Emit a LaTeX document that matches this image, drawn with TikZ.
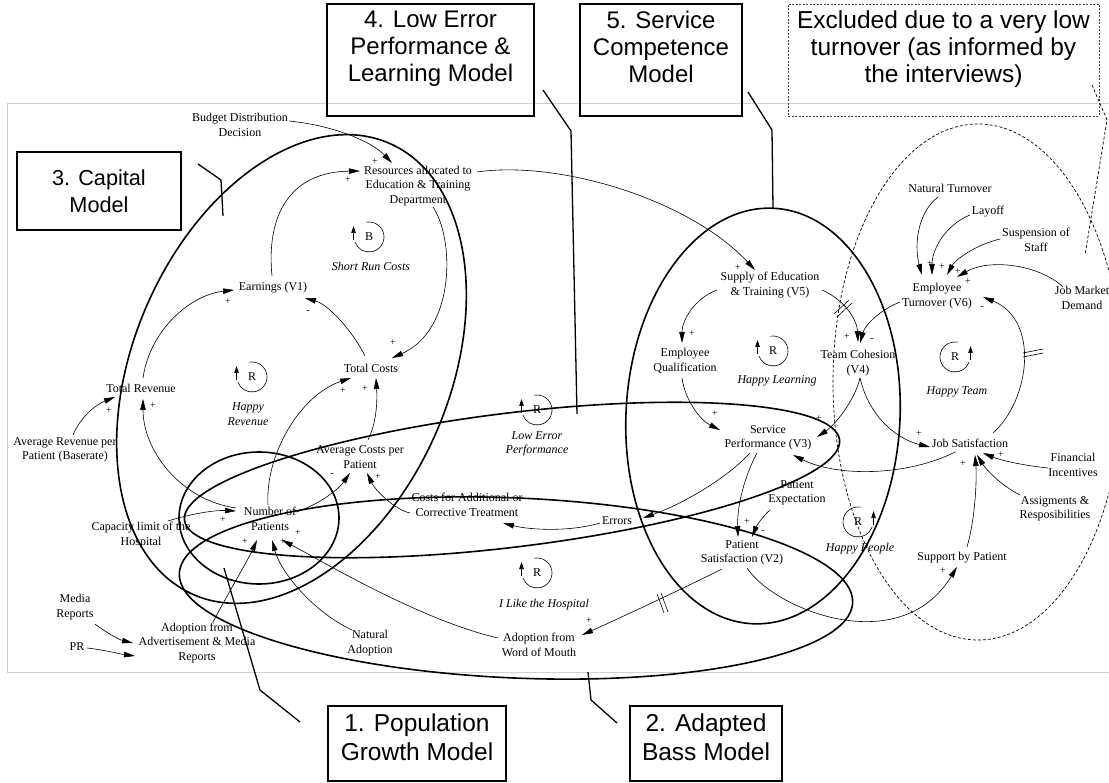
\documentclass[tikz,border=0pt]{standalone}
\usepackage{fontspec}
\setmainfont{Liberation Serif}
\newfontfamily\boxfont{Liberation Sans}
\usetikzlibrary{arrows.meta}
\tikzset{
  lbl/.style={font=\fontsize{12}{14.5}\selectfont, align=center, inner sep=1pt},
  loopname/.style={font=\fontsize{12}{14.5}\selectfont\itshape, align=center, inner sep=1pt},
  sgn/.style={font=\fontsize{10}{10}\selectfont, inner sep=0pt},
  arr/.style={line width=0.6pt, -{Triangle[length=11pt,width=5.5pt]}},
  model/.style={line width=1.6pt},
  xmodel/.style={line width=0.7pt, dash pattern=on 3pt off 2pt},
  pointer/.style={line width=1.3pt},
  xpointer/.style={line width=0.7pt, dash pattern=on 3pt off 2pt},
  mbox/.style={draw, line width=1.3pt, align=center, inner sep=0pt},
  xbox/.style={draw=black!75, line width=0.7pt, dash pattern=on 2pt off 1.5pt, align=center, inner sep=0pt},
  hashmark/.style={line width=0.6pt},
  loopline/.style={line width=0.6pt}
}
\newcommand{\looparcL}[3]{%
  \node[lbl] (#1) at #2 {#3};
  \begin{scope}[shift={#2}, yscale=-1]
    \draw[loopline] (100:15) arc[start angle=100, end angle=-160, radius=15];
    \draw[loopline, -{Triangle[length=7pt,width=4.5pt]}] (-15.5,-3) -- (-15.5,11);
  \end{scope}}
\newcommand{\looparcR}[3]{%
  \node[lbl] (#1) at #2 {#3};
  \begin{scope}[shift={#2}, yscale=-1]
    \draw[loopline] (80:15) arc[start angle=80, end angle=340, radius=15];
    \draw[loopline, -{Triangle[length=7pt,width=4.5pt]}] (15.5,-3) -- (15.5,11);
  \end{scope}}
\begin{document}
\begin{tikzpicture}[x=1pt, y=-1pt]
\useasboundingbox (0,0) rectangle (1109,783);
\fill[white] (0,0) rectangle (1109,783);
% frame
\draw[black!18, line width=0.8pt] (7,103) -- (1120,103);
\draw[black!18, line width=0.8pt] (7,103) -- (7,672) -- (1120,672);

% model ellipses
\draw[model, rotate around={66.6:(291.5,369)}] (291.5,369) ellipse [x radius=246, y radius=158];
\draw[model] (259,518) ellipse [x radius=80, y radius=66];
\draw[model, rotate around={-2.5:(516,588)}] (516,588) ellipse [x radius=337, y radius=90];
\draw[model, rotate around={7:(512,480)}] (512,480) ellipse [x radius=330, y radius=67];
\draw[model, rotate around={-3:(763,416)}] (763,416) ellipse [x radius=137, y radius=208];
\draw[xmodel] (978,382) ellipse [x radius=145, y radius=258];

% model boxes
\node[mbox, minimum width=164pt, minimum height=78pt, font=\boxfont\fontsize{21.7}{27}\selectfont] (b3) at (99,191) {3. Capital\\Model};
\node[mbox, minimum width=207pt, minimum height=112pt, font=\boxfont\fontsize{24}{27}\selectfont] (b4) at (430.5,60) {4. Low Error\\Performance \&\\Learning Model\\\mbox{}};
\node[mbox, minimum width=162pt, minimum height=112pt, font=\boxfont\fontsize{24}{27}\selectfont] (b5) at (661,60) {5. Service\\Competence\\Model\\\mbox{}};
\node[xbox, minimum width=311pt, minimum height=112pt, font=\boxfont\fontsize{24.5}{27}\selectfont] (bx) at (943.5,60) {Excluded due to a very low\\turnover (as informed by\\the interviews)\\\mbox{}};
\node[mbox, minimum width=178pt, minimum height=75pt, text depth=12pt, font=\boxfont\fontsize{24.5}{29}\selectfont] (b1) at (417,743.5) {1. Population\\Growth Model};
\node[mbox, minimum width=152pt, minimum height=75pt, text depth=12pt, font=\boxfont\fontsize{24.5}{29}\selectfont] (b2) at (706,743.5) {2. Adapted\\Bass Model};

% pointers
\coordinate (p3) at (198,164);
\coordinate (p4) at (543,90);
\coordinate (p5) at (748,92);
\coordinate (px) at (1092,85);
\coordinate (p1) at (300,722);
\coordinate (p2) at (617,723);
\draw[pointer] (p3) -- (221,180) -- (223,216);
\draw[pointer] (p4) -- (571,131) -- (577,414);
\draw[pointer] (p5) -- (772,130) -- (773,208);
\draw[xpointer] (px) -- (1107,120) -- (1085,255);
\draw[pointer] (p1) -- (260,690) -- (224,568);
\draw[pointer] (p2) -- (591,700) -- (588,672);

% variables
\node[lbl] (bud) at (240,125) {Budget Distribution\\Decision};
\node[lbl] (res) at (418,186) {Resources allocated to\\Education \& Training\\Department};
\node[lbl] (earn) at (273,288) {Earnings (V1)};
\node[lbl] (trev) at (141,388) {Total Revenue};
\node[lbl] (tcost) at (371,368) {Total Costs};
\node[lbl] (acpp) at (360,457) {Average Costs per\\Patient};
\node[lbl] (cadd) at (467,505) {Costs for Additional or\\Corrective Treatment};
\node[lbl] (arpp) at (65,450) {Average Revenue per\\Patient (Baserate)};
\node[lbl] (nop) at (270,519) {Number of\\Patients};
\node[lbl] (cap) at (141,535) {Capacity limit of the\\Hospital};
\node[lbl] (err) at (617,521) {Errors};
\node[lbl] (eq) at (685,361) {Employee\\Qualification};
\node[lbl] (soe) at (770,285) {Supply of Education\\\& Training (V5)};
\node[lbl] (tc) at (858,363) {Team Cohesion\\(V4)};
\node[lbl] (sp) at (768,438) {Service\\Performance (V3)};
\node[lbl] (pe) at (797,493) {Patient\\Expectation};
\node[lbl] (ps) at (742,553) {Patient\\Satisfaction (V2)};
\node[lbl] (et) at (937,296) {Employee\\Turnover (V6)};
\node[lbl] (nt) at (950,188) {Natural Turnover};
\node[lbl] (lay) at (988,212) {Layoff};
\node[lbl] (sus) at (1036,240) {Suspension of\\Staff};
\node[lbl] (jmd) at (1082,298) {Job Market\\Demand};
\node[lbl] (js) at (970,443) {Job Satisfaction};
\node[lbl] (fi) at (1073,465) {Financial\\Incentives};
\node[lbl] (ar) at (1055,509) {Assigments \&\\Resposibilities};
\node[lbl] (sbp) at (962,558) {Support by Patient};
\node[lbl] (media) at (75,607) {Media\\Reports};
\node[lbl] (pr) at (77,647) {PR};
\node[lbl] (aam) at (197,643) {Adoption from\\Advertisement \& Media\\Reports};
\node[lbl] (na) at (370,643) {Natural\\Adoption};
\node[lbl] (awm) at (539,645) {Adoption from\\Word of Mouth};

% loop names and symbols
\node[loopname] (lsrc) at (371,266) {Short Run Costs};
\node[loopname] (lhr) at (248,414) {Happy\\Revenue};
\node[loopname] (lle) at (537,444) {Low Error\\Performance};
\node[loopname] (lhl) at (777,381) {Happy Learning};
\node[loopname] (lht) at (957,392) {Happy Team};
\node[loopname] (lhp) at (860,549) {Happy People};
\node[loopname] (lilh) at (544,605) {I Like the Hospital};
\looparcL{lB}{(369,237)}{B}
\looparcL{lR1}{(252,377)}{R}
\looparcL{lR2}{(537,410)}{R}
\looparcL{lR3}{(773,351)}{R}
\looparcR{lR4}{(955,357)}{R}
\looparcR{lR5}{(858,522)}{R}
\looparcL{lR6}{(537,573)}{R}

% causal links
\draw[arr] ([shift={(49,-4)}]bud.center) .. controls (330,125) and (370,140) .. ([shift={(-26,-23)}]res.center);
\draw[arr] ([shift={(-1,-12)}]earn.center) .. controls (266,215) and (290,172) .. ([shift={(-58,-15)}]res.center);
\draw[arr] ([shift={(15,21)}]res.center) .. controls (455,240) and (455,330) .. ([shift={(21,-10)}]tcost.center);
\draw[arr] ([shift={(-6,-12)}]tcost.center) .. controls (355,335) and (330,305) .. ([shift={(32,10)}]earn.center);
\draw[arr] ([shift={(2,-10)}]trev.center) .. controls (150,330) and (190,295) .. ([shift={(-39,2)}]earn.center);
\draw[arr] ([shift={(-34,-11)}]nop.center) .. controls (180,500) and (143,450) .. ([shift={(2,11)}]trev.center);
\draw[arr] ([shift={(8,-15)}]arpp.center) .. controls (80,418) and (95,405) .. ([shift={(-26,9)}]trev.center);
\draw[arr] ([shift={(27,-14)}]cap.center) .. controls (190,514) and (215,510) .. ([shift={(-34,-8)}]nop.center);
\draw[arr] ([shift={(-2,-14)}]nop.center) .. controls (265,455) and (300,395) .. ([shift={(-20,10)}]tcost.center);
\draw[arr] ([shift={(8,-17)}]acpp.center) .. controls (378,420) and (377,395) .. ([shift={(5,10)}]tcost.center);
\draw[arr] ([shift={(26,-7)}]nop.center) .. controls (318,505) and (338,490) .. ([shift={(-10,16)}]acpp.center);
\draw[arr] ([shift={(-57,8)}]cadd.center) .. controls (395,510) and (375,490) .. ([shift={(7,16)}]acpp.center);
\draw[arr] ([shift={(-17,2)}]err.center) .. controls (570,532) and (530,530) .. ([shift={(36,18)}]cadd.center);
\draw[arr] ([shift={(-18,15)}]sp.center) .. controls (725,480) and (680,505) .. ([shift={(26,-3)}]err.center);
\draw[arr] ([shift={(-11,15)}]sp.center) .. controls (745,475) and (737,505) .. ([shift={(-4,-16)}]ps.center);
\draw[arr] ([shift={(-27,17)}]pe.center) .. controls (762,517) and (756,527) .. ([shift={(10,-16)}]ps.center);
\draw[arr] ([shift={(-3,17)}]eq.center) .. controls (685,400) and (700,420) .. ([shift={(-48,-8)}]sp.center);
\draw[arr] ([shift={(-53,5)}]soe.center) .. controls (695,298) and (682,320) .. ([shift={(-3,-18)}]eq.center);
\draw[arr] ([shift={(59,-14)}]res.center) .. controls (560,160) and (690,200) .. ([shift={(-15,-15)}]soe.center);
\draw[arr] ([shift={(52,5)}]soe.center) .. controls (845,300) and (857,320) .. ([shift={(0,-21)}]tc.center);
\draw[arr] ([shift={(-37,6)}]et.center) .. controls (880,310) and (865,325) .. ([shift={(2,-20)}]tc.center);
\draw[arr] ([shift={(2,15)}]tc.center) .. controls (855,400) and (835,425) .. ([shift={(49,-1)}]sp.center);
\draw[arr] ([shift={(2,15)}]tc.center) .. controls (870,420) and (900,440) .. ([shift={(-40,4)}]js.center);
\draw[arr] ([shift={(-15,9)}]js.center) .. controls (910,475) and (840,478) .. ([shift={(25,17)}]sp.center);
\draw[arr] ([shift={(23,-10)}]js.center) .. controls (1030,400) and (1040,320) .. ([shift={(46,1)}]et.center);
\draw[arr] ([shift={(-12,9)}]nt.center) .. controls (915,215) and (915,250) .. ([shift={(-15,-21)}]et.center);
\draw[arr] ([shift={(-18,3)}]lay.center) .. controls (945,225) and (932,250) .. ([shift={(-5,-21)}]et.center);
\draw[arr] ([shift={(-36,-1)}]sus.center) .. controls (975,245) and (955,260) .. ([shift={(10,-21)}]et.center);
\draw[arr] ([shift={(-19,-11)}]jmd.center) .. controls (1040,265) and (990,258) .. ([shift={(20,-19)}]et.center);
\draw[arr] ([shift={(-25,3)}]fi.center) .. controls (1020,465) and (1000,460) .. ([shift={(13,10)}]js.center);
\draw[arr] ([shift={(-35,-14)}]ar.center) .. controls (1000,485) and (985,468) .. ([shift={(7,12)}]js.center);
\draw[arr] ([shift={(5,-11)}]sbp.center) .. controls (975,520) and (977,480) .. ([shift={(5,12)}]js.center);
\draw[arr] ([shift={(5,15)}]ps.center) .. controls (775,610) and (900,660) .. ([shift={(-5,9)}]sbp.center);
\draw[arr] ([shift={(-20,16)}]ps.center) .. controls (680,590) and (620,618) .. ([shift={(43,-10)}]awm.center);
\draw[arr] ([shift={(-41,-7)}]awm.center) .. controls (420,620) and (320,560) .. ([shift={(12,21)}]nop.center);
\draw[arr] ([shift={(-18,-13)}]na.center) .. controls (310,610) and (280,570) .. ([shift={(2,21)}]nop.center);
\draw[arr] ([shift={(16,-21)}]aam.center) .. controls (230,590) and (248,560) .. ([shift={(-13,21)}]nop.center);
\draw[arr] ([shift={(20,17)}]media.center) .. controls (105,632) and (120,640) .. ([shift={(-64,0)}]aam.center);
\draw[arr] ([shift={(10,1)}]pr.center) .. controls (105,650) and (120,654) .. ([shift={(-62,13)}]aam.center);

% delay marks
\draw[hashmark] (834,314) -- (849,300);
\draw[hashmark] (837,317) -- (852,303);
\draw[hashmark] (1023,353) -- (1043,349);
\draw[hashmark] (1023,357) -- (1043,353);
\draw[hashmark] (657,594) -- (664,613);
\draw[hashmark] (661,593) -- (668,612);

% polarities
\node[sgn] (s1) at (375,162) {+};
\node[sgn] (s2) at (348,180) {+};
\node[sgn] (s3) at (393,343) {+};
\node[sgn] (s4) at (308,312) {-};
\node[sgn] (s5) at (228,302) {+};
\node[sgn] (s6) at (153,406) {+};
\node[sgn] (s7) at (109,411) {+};
\node[sgn] (s8) at (223,520) {+};
\node[sgn] (s9) at (343,391) {+};
\node[sgn] (s10) at (365,389) {+};
\node[sgn] (s11) at (332,475) {-};
\node[sgn] (s12) at (378,477) {+};
\node[sgn] (s13) at (738,268) {+};
\node[sgn] (s14) at (692,334) {+};
\node[sgn] (s15) at (715,414) {+};
\node[sgn] (s16) at (847,337) {+};
\node[sgn] (s17) at (872,340) {-};
\node[sgn] (s18) at (819,419) {+};
\node[sgn] (s19) at (919,434) {+};
\node[sgn] (s20) at (982,308) {-};
\node[sgn] (s21) at (930,264) {+};
\node[sgn] (s22) at (942,267) {+};
\node[sgn] (s23) at (958,272) {+};
\node[sgn] (s24) at (968,282) {+};
\node[sgn] (s25) at (747,522) {+};
\node[sgn] (s26) at (763,532) {-};
\node[sgn] (s27) at (963,464) {+};
\node[sgn] (s28) at (1001,455) {+};
\node[sgn] (s29) at (943,571) {+};
\node[sgn] (s30) at (589,621) {+};
\node[sgn] (s31) at (298,533) {+};
\node[sgn] (s32) at (245,542) {+};
\node[sgn] (s33) at (283,542) {+};
\end{tikzpicture}
\end{document}
